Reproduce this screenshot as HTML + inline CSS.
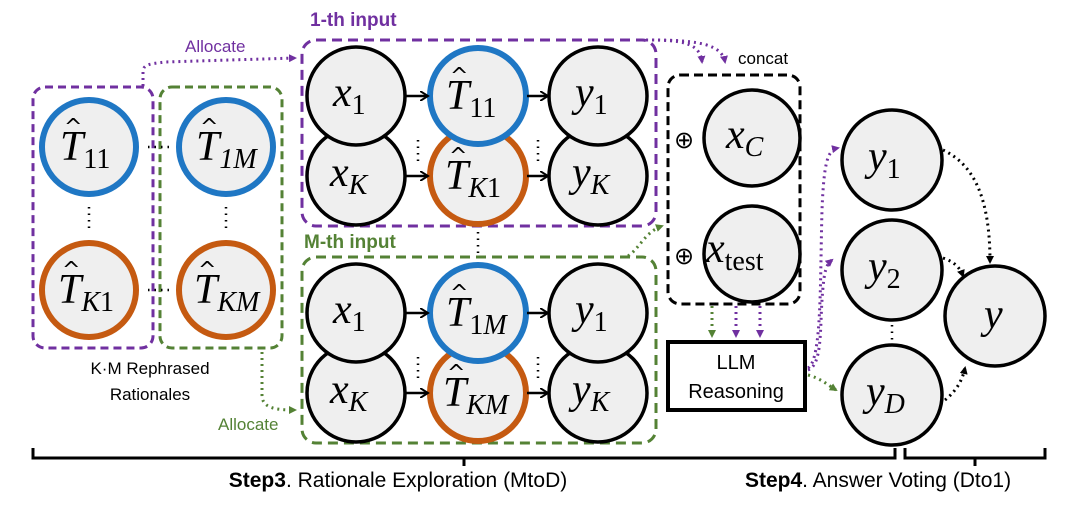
<!DOCTYPE html>
<html><head><meta charset="utf-8"><style>
html,body{margin:0;padding:0;background:#fff;}
svg{display:block;}
.m{font-family:"Liberation Serif",serif;font-style:italic;font-size:42px;}
.s{font-family:"Liberation Serif",serif;font-style:normal;font-size:28px;}
.si{font-family:"Liberation Serif",serif;font-style:italic;font-size:28px;}
.h{font-family:"DejaVu Sans",sans-serif;font-style:normal;font-size:22px;}
.t{font-family:"Liberation Sans",sans-serif;}
</style></head><body>
<svg width="1080" height="505" viewBox="0 0 1080 505" xmlns="http://www.w3.org/2000/svg">
<defs>
<marker id="ap" markerWidth="8" markerHeight="8" refX="6" refY="4" orient="auto" markerUnits="userSpaceOnUse"><path d="M0,0 L8,4 L0,8 z" fill="#7030a0"/></marker>
<marker id="ag" markerWidth="8" markerHeight="8" refX="6" refY="4" orient="auto" markerUnits="userSpaceOnUse"><path d="M0,0 L8,4 L0,8 z" fill="#548235"/></marker>
<marker id="ak" markerWidth="8" markerHeight="8" refX="6" refY="4" orient="auto" markerUnits="userSpaceOnUse"><path d="M0,0 L8,4 L0,8 z" fill="#000"/></marker>
<marker id="ao" markerWidth="10" markerHeight="10" refX="8" refY="5" orient="auto" markerUnits="userSpaceOnUse"><path d="M0,0 L8,5 L0,10" fill="none" stroke="#000" stroke-width="2"/></marker>
</defs>

<rect x="33" y="87" width="120" height="261" rx="12" fill="none" stroke="#7030a0" stroke-width="3" stroke-dasharray="8,5"/>
<rect x="160" y="87" width="122" height="261" rx="12" fill="none" stroke="#548235" stroke-width="3" stroke-dasharray="8,5"/>
<g stroke-width="6" fill="#efefef">
<circle cx="89" cy="147" r="47" stroke="#1f77c4"/>
<circle cx="226" cy="147" r="47" stroke="#1f77c4"/>
<circle cx="89" cy="290" r="47" stroke="#c55a11"/>
<circle cx="226" cy="290" r="47" stroke="#c55a11"/>
</g>
<g stroke="#000" stroke-width="2.5" stroke-dasharray="1.5,5">
<line x1="148" y1="147" x2="172" y2="147"/><line x1="148" y1="290" x2="172" y2="290"/>
<line x1="89" y1="207" x2="89" y2="230"/><line x1="226" y1="207" x2="226" y2="230"/>
</g>

<rect x="302" y="40" width="354" height="186" rx="14" fill="none" stroke="#7030a0" stroke-width="3" stroke-dasharray="10,6"/>
<text x="310" y="26" class="t" font-size="19" font-weight="bold" fill="#7030a0">1-th input</text>
<g fill="#efefef" stroke-width="3.5" stroke="#000">
<circle cx="356" cy="176" r="49"/><circle cx="356" cy="96" r="49"/>
<circle cx="598" cy="176" r="49"/><circle cx="598" cy="96" r="49"/>
</g>
<circle cx="478" cy="176" r="48" fill="#efefef" stroke="#c55a11" stroke-width="6"/>
<circle cx="478" cy="96" r="48" fill="#efefef" stroke="#1f77c4" stroke-width="6"/>

<rect x="302" y="257" width="354" height="186" rx="14" fill="none" stroke="#548235" stroke-width="3" stroke-dasharray="10,6"/>
<text x="304" y="248" class="t" font-size="19" font-weight="bold" fill="#548235">M-th input</text>
<g fill="#efefef" stroke-width="3.5" stroke="#000">
<circle cx="356" cy="393" r="49"/><circle cx="356" cy="313" r="49"/>
<circle cx="598" cy="393" r="49"/><circle cx="598" cy="313" r="49"/>
</g>
<circle cx="478" cy="393" r="48" fill="#efefef" stroke="#c55a11" stroke-width="6"/>
<circle cx="478" cy="313" r="48" fill="#efefef" stroke="#1f77c4" stroke-width="6"/>

<g stroke="#000" stroke-width="2.5" marker-end="url(#ao)">
<line x1="405" y1="96" x2="428" y2="96"/><line x1="405" y1="176" x2="428" y2="176"/>
<line x1="527" y1="96" x2="548" y2="96"/><line x1="527" y1="176" x2="548" y2="176"/>
<line x1="405" y1="313" x2="428" y2="313"/><line x1="405" y1="393" x2="428" y2="393"/>
<line x1="527" y1="313" x2="548" y2="313"/><line x1="527" y1="393" x2="548" y2="393"/>
</g>
<g stroke="#000" stroke-width="2.5" stroke-dasharray="1.5,5">
<line x1="418" y1="140" x2="418" y2="162"/><line x1="538" y1="140" x2="538" y2="162"/>
<line x1="418" y1="357" x2="418" y2="379"/><line x1="538" y1="357" x2="538" y2="379"/>
<line x1="478" y1="232" x2="478" y2="254"/>
</g>

<rect x="668" y="75" width="132" height="229" rx="12" fill="none" stroke="#000" stroke-width="3" stroke-dasharray="9,5"/>
<text x="738" y="64" class="t" font-size="17">concat</text>
<circle cx="752" cy="138" r="48" fill="#efefef" stroke="#000" stroke-width="3.5"/>
<circle cx="752" cy="254" r="48" fill="#efefef" stroke="#000" stroke-width="3.5"/>
<text x="684" y="148" font-family="DejaVu Sans, sans-serif" font-size="24" text-anchor="middle">⊕</text>
<text x="684" y="264" font-family="DejaVu Sans, sans-serif" font-size="24" text-anchor="middle">⊕</text>

<rect x="668" y="342" width="137" height="68" fill="#fff" stroke="#000" stroke-width="4"/>
<text x="736" y="369" class="t" font-size="20" text-anchor="middle">LLM</text>
<text x="736" y="398" class="t" font-size="20" text-anchor="middle">Reasoning</text>
<g stroke-width="3" stroke-dasharray="2,4">
<line x1="712" y1="306" x2="712" y2="336" stroke="#548235" marker-end="url(#ag)"/>
<line x1="736" y1="306" x2="736" y2="336" stroke="#7030a0" marker-end="url(#ap)"/>
<line x1="760" y1="306" x2="760" y2="336" stroke="#7030a0" marker-end="url(#ap)"/>
</g>

<g fill="#efefef" stroke="#000" stroke-width="3.5">
<circle cx="892" cy="160" r="50"/><circle cx="892" cy="270" r="50"/><circle cx="892" cy="395" r="50"/>
<circle cx="995" cy="316" r="50"/>
</g>
<line x1="892" y1="325" x2="892" y2="340" stroke="#000" stroke-width="2.5" stroke-dasharray="1.5,5"/>
<g fill="none" stroke="#000" stroke-width="3" stroke-dasharray="2,4" marker-end="url(#ak)">
<path d="M943,150 C975,165 990,200 990,262"/>
<path d="M943,258 C955,262 960,268 963,276"/>
<path d="M945,400 C955,392 962,382 965,368"/>
</g>

<g fill="none" stroke-width="3" stroke-dasharray="2,4">
<path d="M143,86 L143,72 C143,64 150,64 165,62 L295,58" stroke="#7030a0" marker-end="url(#ap)"/>
<path d="M646,40 C680,40 700,42 702,62" stroke="#7030a0" marker-end="url(#ap)"/>
<path d="M652,40 C700,40 722,45 725,62" stroke="#7030a0" marker-end="url(#ap)"/>
<path d="M628,256 C640,248 645,232 662,226" stroke="#548235" marker-end="url(#ag)"/>
<path d="M262,352 L262,395 C262,408 275,410 295,410" stroke="#548235" marker-end="url(#ag)"/>
<path d="M808,370 C822,365 820,330 822,300 C824,270 826,265 832,260" stroke="#7030a0" marker-end="url(#ap)"/>
<path d="M808,368 C822,360 820,280 822,210 C824,160 828,150 838,148" stroke="#7030a0" marker-end="url(#ap)"/>
<path d="M808,375 C820,378 828,385 836,390" stroke="#548235" marker-end="url(#ag)"/>
</g>
<text x="185" y="52" class="t" font-size="17" fill="#7030a0">Allocate</text>
<text x="218" y="430" class="t" font-size="17" fill="#548235">Allocate</text>
<text x="150" y="374" class="t" font-size="17" text-anchor="middle">K·M Rephrased</text>
<text x="150" y="400" class="t" font-size="17" text-anchor="middle">Rationales</text>

<g fill="none" stroke="#000" stroke-width="3">
<path d="M33,448 L33,458 L895,458 L895,448"/><line x1="464" y1="458" x2="464" y2="466"/>
<path d="M905,448 L905,458 L1045,458 L1045,448"/><line x1="975" y1="458" x2="975" y2="466"/>
</g>
<text x="398" y="487" class="t" font-size="21" text-anchor="middle"><tspan font-weight="bold">Step3</tspan>. Rationale Exploration (MtoD)</text>
<text x="878" y="487" class="t" font-size="21" text-anchor="middle"><tspan font-weight="bold">Step4</tspan>. Answer Voting (Dto1)</text>

<g class="m">
<text x="60" y="160">T<tspan class="s" dy="8">11</tspan></text><text x="64" y="134" class="h">^</text>
<text x="196" y="160">T<tspan class="si" dy="8">1M</tspan></text><text x="200" y="134" class="h">^</text>
<text x="58" y="303">T<tspan class="si" dy="8">K</tspan><tspan class="s">1</tspan></text><text x="62" y="277" class="h">^</text>
<text x="194" y="303">T<tspan class="si" dy="8">KM</tspan></text><text x="198" y="277" class="h">^</text>
<text x="446" y="109">T<tspan class="s" dy="8">11</tspan></text><text x="450" y="83" class="h">^</text>
<text x="445" y="189">T<tspan class="si" dy="8">K</tspan><tspan class="s">1</tspan></text><text x="449" y="163" class="h">^</text>
<text x="446" y="326">T<tspan class="s" dy="8">1</tspan><tspan class="si">M</tspan></text><text x="450" y="300" class="h">^</text>
<text x="443" y="406">T<tspan class="si" dy="8">KM</tspan></text><text x="447" y="380" class="h">^</text>
<text x="333" y="106">x<tspan class="s" dy="8">1</tspan></text>
<text x="330" y="186">x<tspan class="si" dy="8">K</tspan></text>
<text x="333" y="323">x<tspan class="s" dy="8">1</tspan></text>
<text x="330" y="403">x<tspan class="si" dy="8">K</tspan></text>
<text x="575" y="106">y<tspan class="s" dy="8">1</tspan></text>
<text x="572" y="186">y<tspan class="si" dy="8">K</tspan></text>
<text x="575" y="323">y<tspan class="s" dy="8">1</tspan></text>
<text x="572" y="403">y<tspan class="si" dy="8">K</tspan></text>
<text x="726" y="148">x<tspan class="si" dy="8">C</tspan></text>
<text x="706" y="262">x<tspan class="s" dy="8">test</tspan></text>
<text x="868" y="170">y<tspan class="s" dy="8">1</tspan></text>
<text x="868" y="280">y<tspan class="s" dy="8">2</tspan></text>
<text x="866" y="405">y<tspan class="si" dy="8">D</tspan></text>
<text x="984" y="328">y</text>
</g>
</svg>
</body></html>
